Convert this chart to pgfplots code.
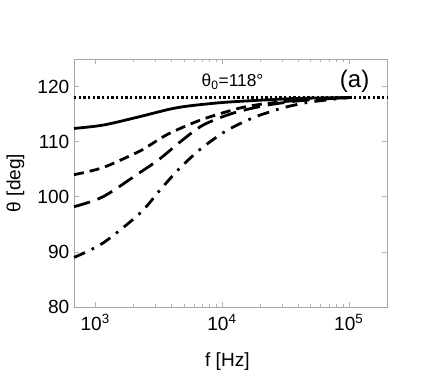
\documentclass[border=0pt]{standalone}
\usepackage{fontspec}
\setmainfont{Liberation Sans}
\usepackage{pgfplots}
\pgfplotsset{compat=1.18}

\begin{document}
\begin{tikzpicture}
\path[use as bounding box] (-55.5pt,-63.75pt) rectangle (271.5pt,230.25pt);
\begin{axis}[
    scale only axis,
    width=234.75pt, height=186pt,
    xmode=log,
    xmin=680, xmax=2e5,
    ymin=80, ymax=125,
    xtick={1000,10000,100000},
    xticklabels={10\textsuperscript{3},10\textsuperscript{4},10\textsuperscript{5}},
    ytick={80,90,100,110,120},
    /pgf/number format/assume math mode=true,
    tick label style={font=\fontsize{14.3}{16}\selectfont, black},
    label style={font=\fontsize{14.3}{16}\selectfont},
    xlabel={f [Hz]},
    ylabel={θ [deg]},
    xlabel style={at={(axis description cs:0.49,0)}, anchor=center, yshift=-41pt},
    ylabel style={at={(axis description cs:0,0.5)}, anchor=center, yshift=44pt},
    axis line style={gray!70},
    tick style={gray!60, line width=0.5pt},
    tick align=inside,
    major tick length=3.75pt,
    minor tick length=2.2pt,
    xticklabel style={yshift=-2pt},
    clip=false,
]
% theta_0 reference line
\addplot[black, line width=1.7pt, dash pattern=on 1.7pt off 1.8pt] coordinates {(680,118) (2e5,118)};
% solid
\addplot[black, line width=2.1pt, smooth] coordinates {
(680,112.4) (1150,113.0) (2118,114.4) (3873,115.9) (5560,116.5) (10000,117.1) (19100,117.5) (40000,117.85) (100000,118)
};
% short dashed
\addplot[black, line width=2.1pt, smooth, dash pattern=on 7.5pt off 4.5pt] coordinates {
(680,104.0) (1150,105.3) (2118,108.0) (2540,109.0) (3630,111.2) (5250,112.9) (7530,114.3) (13800,116.1) (22000,116.9) (40000,117.5) (100000,118)
};
% long dashed
\addplot[black, line width=2.1pt, smooth, dash pattern=on 12.5pt off 6pt] coordinates {
(680,98.2) (1150,100.0) (2250,104.4) (3236,106.9) (4700,110.0) (7080,113.0) (12300,115.2) (22400,116.6) (40000,117.4) (70000,117.8) (100000,118)
};
% dash-dot
\addplot[black, line width=2.1pt, smooth, dash pattern=on 9pt off 5.5pt on 2pt off 5.5pt] coordinates {
(680,89.0) (1150,91.6) (2250,97.0) (3236,101.2) (4645,105.2) (6890,108.8) (10840,112.0) (17400,114.3) (23800,115.4) (32100,116.3) (50000,117.2) (100000,118)
};
\node[font=\fontsize{13}{15}\selectfont] at (axis cs:12100,120.9) {θ\textsubscript{0}=118°};
\node[font=\fontsize{18}{20}\selectfont] at (axis cs:111000,120.9) {(a)};
\end{axis}
\end{tikzpicture}
\end{document}
